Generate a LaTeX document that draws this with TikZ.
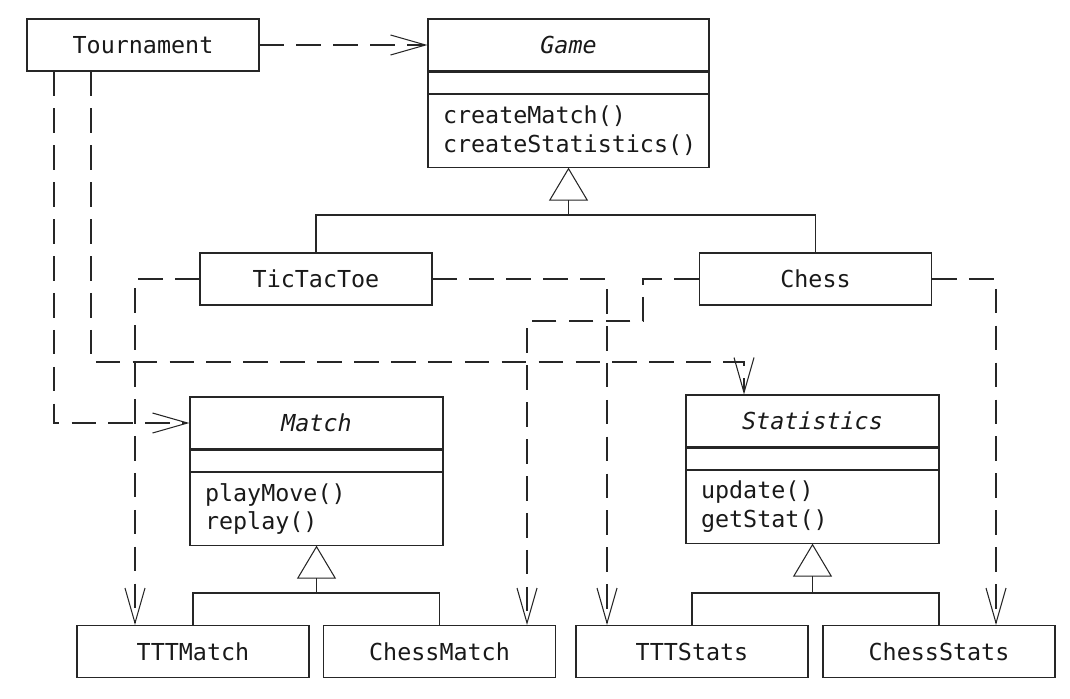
\documentclass[tikz,border=0pt]{standalone}
\usepackage{fontspec}
\setmonofont{DejaVu Sans Mono}
\usetikzlibrary{positioning,arrows.meta}

\begin{document}
\begin{tikzpicture}[
	line width = 0.6pt,
	draw = black!85,
	every node/.style = {font = \ttfamily\fontsize{13.3}{16}\selectfont, text = black!90},
	box/.style = {draw, inner sep = 0pt, minimum width = 4.64 cm, minimum height = 1.04 cm},
	head/.style = {box, font = \ttfamily\itshape\fontsize{13.3}{16}\selectfont},
	attr/.style = {draw, inner sep = 0pt, minimum height = 0.42 cm},
	ops/.style = {draw, inner xsep = 0.3 cm, inner ysep = 0pt, minimum height = 1.46 cm, align = left},
	dep/.style = {dash pattern = on 14pt off 7pt, -{Straight Barb[length=0.7cm, width=0.4cm, line width=0.6pt]}},
	inherit/.style = {-{Triangle[open, length=0.66cm, width=0.78cm]}}
	]
	 \useasboundingbox (0, 0) rectangle (21.4, 13.96);
	 
	 \node[box] (tour) at (2.86, 13.06) {Tournament};
	 
	 \node[head, minimum width = 5.62 cm] (game) at (11.37, 13.06) {Game};
	 \node[attr, minimum width = 5.62 cm, below = 0pt of game] (game attr) {};
	 \node[ops, text width = 5.02 cm, below = 0pt of game attr] (game ops) {createMatch()\\createStatistics()};
	 
	 \node[box] (ttt) at (6.32, 8.38) {TicTacToe};
	 \node[box] (chess) at (16.31, 8.38) {Chess};
	 
	 \node[head, minimum width = 5.06 cm] (match) at (6.33, 5.5) {Match};
	 \node[attr, minimum width = 5.06 cm, below = 0pt of match] (match attr) {};
	 \node[ops, text width = 4.46 cm, below = 0pt of match attr] (match ops) {playMove()\\replay()};
	 
	 \node[head, minimum width = 5.06 cm] (stats) at (16.25, 5.54) {Statistics};
	 \node[attr, minimum width = 5.06 cm, below = 0pt of stats] (stats attr) {};
	 \node[ops, text width = 4.46 cm, below = 0pt of stats attr] (stats ops) {update()\\getStat()};
	 
	 \node[box] (tttmatch) at (3.86, 0.93) {TTTMatch};
	 \node[box] (chessmatch) at (8.79, 0.93) {ChessMatch};
	 \node[box] (tttstats) at (13.84, 0.93) {TTTStats};
	 \node[box] (chessstats) at (18.78, 0.93) {ChessStats};
	 
	 \coordinate (gbar) at (11.37, 9.66);
	 \draw (ttt.north) |- (gbar) -| (chess.north);
	 \draw[inherit] (gbar) -- (game ops.south);
	 
	 \coordinate (mbar) at (6.33, 2.1);
	 \draw (tttmatch.north) |- (mbar) -| (chessmatch.north);
	 \draw[inherit] (mbar) -- (match ops.south);
	 
	 \coordinate (sbar) at (16.25, 2.1);
	 \draw (tttstats.north) |- (sbar) -| (chessstats.north);
	 \draw[inherit] (sbar) -- (stats ops.south);
	 
	 \draw[dep] (tour.east) -- (game.west);
	 
	 \coordinate (tleft) at (1.08, 0);
	 \draw[dep] (tour.south -| tleft) |- (match.west);
	 
	 \coordinate (tbend) at (1.82, 6.72);
	 \coordinate (sin) at (14.88, 6.72);
	 \draw[dep] (tour.south -| tbend) |- (sin) -- (stats.north -| sin);
	 
	 \coordinate (tttl) at (2.7, 0);
	 \draw[dep] (ttt.west) -| (tttmatch.north -| tttl);
	 \coordinate (tttr) at (12.14, 0);
	 \draw[dep] (ttt.east) -| (tttstats.north -| tttr);
	 
	 \coordinate (cbend) at (12.86, 7.54);
	 \coordinate (cml) at (10.54, 0);
	 \draw[dep] (chess.west) -| (cbend) -| (chessmatch.north -| cml);
	 \coordinate (chr) at (19.92, 0);
	 \draw[dep] (chess.east) -| (chessstats.north -| chr);
\end{tikzpicture}
\end{document}
